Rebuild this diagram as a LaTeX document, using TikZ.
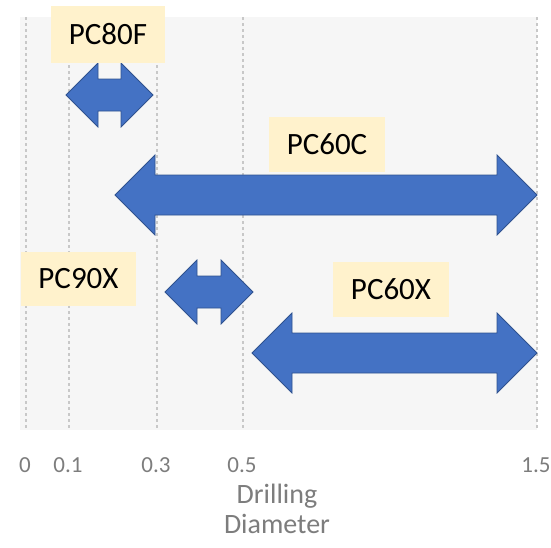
\documentclass[tikz,border=0pt]{standalone}
\usepackage{fontspec}
\setmainfont{Carlito}
\definecolor{ArrowBlue} {RGB}{68,114,196}
\definecolor{ArrowEdge} {RGB}{47,82,143}
\definecolor{LabelFill} {RGB}{255,242,204}
\definecolor{PlotBg}    {RGB}{246,246,246}
\definecolor{GridGray}  {RGB}{200,200,200}
\definecolor{TickGray}  {RGB}{125,125,125}
\usetikzlibrary{positioning}

%% double-headed range arrow: left tip, right tip, centre y, head half-width, shaft half-width
\newcommand{\rangearrow}[5]{%
  \filldraw[ArrowBlue,draw=ArrowEdge,line width=0.8pt]
    (#1,#3) -- (#1+#4,#3-#4) -- (#1+#4,#3-#5) -- (#2-#4,#3-#5)
    -- (#2-#4,#3-#4) -- (#2,#3) -- (#2-#4,#3+#4) -- (#2-#4,#3+#5)
    -- (#1+#4,#3+#5) -- (#1+#4,#3+#4) -- cycle;}

\begin{document}
\begin{tikzpicture}[x=1pt,y=-1pt,
    rangelabel/.style={fill=LabelFill,inner sep=0pt,minimum width=115pt,
      minimum height=55pt,font=\fontsize{31}{36}\selectfont},
    ticklabel/.style={TickGray,anchor=base,font=\fontsize{23}{26}\selectfont},
    axislabel/.style={TickGray,anchor=base,font=\fontsize{28}{30}\selectfont}]
  \useasboundingbox[fill=white] (0,0) rectangle (551,547);
  %% Plot area
  \fill[PlotBg] (20,17) rectangle (537,430);
  %% Grid lines and tick labels
  \foreach \gx/\glab [count=\i] in {26/0,69/0.1,157/0.3,243/0.5,537/1.5}{
    \draw[GridGray,dashed,line width=1.2pt] (\gx,17) -- (\gx,430);
    \node[ticklabel] (tick\i) at (\gx-1,472) {\glab};
  }
  \node[axislabel] (drilling) at (277,503) {Drilling};
  \node[axislabel] (diameter) at (277,533) {Diameter};
  %% Ranges
  \rangearrow{66}{153}{95}{32}{16}
  \rangearrow{115}{537}{195}{40}{20}
  \rangearrow{165}{253}{292}{32}{16}
  \rangearrow{252}{537}{353}{40}{20}
  %% Model labels
  \node[rangelabel,minimum width=114pt,minimum height=57pt] (pc80f) at (108,34.5) {PC80F};
  \node[rangelabel,minimum width=116pt] (pc60c) at (327,144.5) {PC60C};
  \node[rangelabel,minimum height=54pt] (pc90x) at (78.5,279) {PC90X};
  \node[rangelabel,minimum width=116pt] (pc60x) at (391,289.5) {PC60X};
\end{tikzpicture}
\end{document}
